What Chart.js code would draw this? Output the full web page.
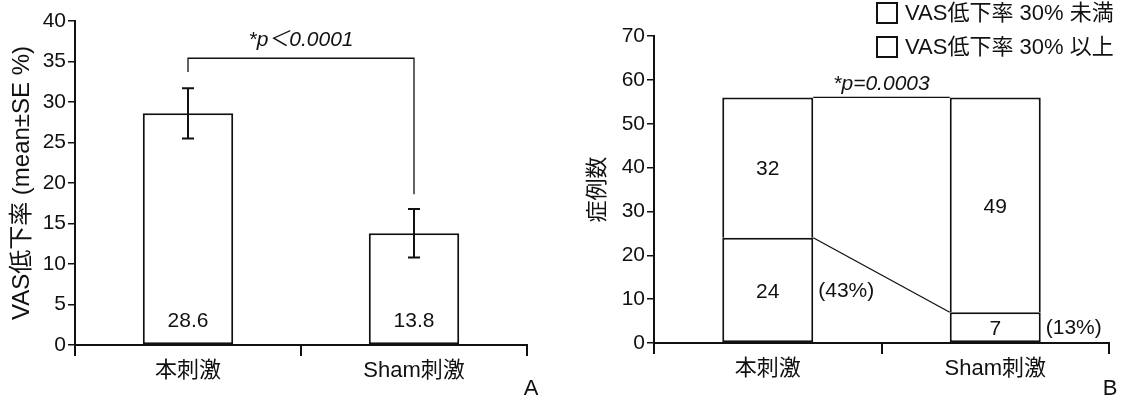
<!DOCTYPE html>
<html>
<head>
<meta charset="utf-8">
<script src="https://cdn.jsdelivr.net/npm/chart.js@4.4.0/dist/chart.umd.min.js"></script>
<style>
  html, body { margin: 0; padding: 0; background: #fff; }
  #wrap { position: relative; width: 1121px; height: 399px; overflow: hidden; }
  #chartA { position: absolute; left: 0; top: 0; }
  #chartB { position: absolute; left: 560px; top: 0; }
</style>
</head>
<body>
<div id="wrap">
  <canvas id="chartA" width="560" height="399"></canvas>
  <canvas id="chartB" width="561" height="399"></canvas>
</div>
<script>
// --- data -------------------------------------------------------------
const categories = ['本刺激', 'Sham刺激'];

// A: VAS reduction rate, mean ± SE (%)
const meanDrop = [28.6, 13.8];
const seDrop = [3.1, 3.0];
const bracketTop = 35.4;          // height of the significance bracket
const bracketEnds = [33.7, 18.6]; // where each leg of the bracket stops
const sigTextA = '*p＜0.0001';

// B: number of cases
const seriesLabels = ['VAS低下率 30% 未満', 'VAS低下率 30% 以上'];
const countUnder30 = [32, 49];
const countOver30 = [24, 7];
const pctOver30 = ['(43%)', '(13%)'];
const sigTextB = '*p=0.0003';

const INK = '#111';
const FONT = '"Liberation Sans", Arial, "Noto Sans CJK JP", sans-serif';

// --- shared axis styling ---------------------------------------------
function xAxis(height) {
  return {
    offset: true,
    grid: { display: true, offset: true, drawOnChartArea: false, drawTicks: true,
            tickLength: 11, color: INK, lineWidth: 2 },
    border: { display: true, color: INK, width: 2 },
    ticks: { color: INK, padding: 2, font: { family: FONT, size: 22 } },
    afterFit(s) { s.height = height; },
  };
}
function yAxis(width, max, step, title, titleSize, titlePad) {
  return {
    min: 0, max: max,
    grid: { drawOnChartArea: false, drawTicks: true, tickLength: 7, color: INK, lineWidth: 1.5 },
    border: { display: true, color: INK, width: 2 },
    ticks: { stepSize: step, color: INK, padding: 2, font: { family: FONT, size: 21 } },
    title: { display: true, text: title, color: INK, padding: { top: titlePad, bottom: 0 },
             font: { family: FONT, size: titleSize } },
    afterFit(s) { s.width = width; },
  };
}

const noChrome = {
  legend: { display: false },
  tooltip: { enabled: false },
};

// --- panel A ----------------------------------------------------------
const panelA = {
  id: 'panelA',
  afterDatasetsDraw(chart) {
    const { ctx, scales: { x, y } } = chart;
    const bars = chart.getDatasetMeta(0).data;
    ctx.save();
    ctx.strokeStyle = INK;
    ctx.fillStyle = INK;
    ctx.textAlign = 'center';
    ctx.textBaseline = 'middle';

    bars.forEach((bar, i) => {
      const hi = y.getPixelForValue(meanDrop[i] + seDrop[i]);
      const lo = y.getPixelForValue(meanDrop[i] - seDrop[i]);
      ctx.lineWidth = 2;
      ctx.beginPath();
      ctx.moveTo(bar.x, hi); ctx.lineTo(bar.x, lo);
      ctx.moveTo(bar.x - 6, hi); ctx.lineTo(bar.x + 6, hi);
      ctx.moveTo(bar.x - 6, lo); ctx.lineTo(bar.x + 6, lo);
      ctx.stroke();

      ctx.font = '21px ' + FONT;
      ctx.fillText(meanDrop[i].toFixed(1), bar.x, y.bottom - 24);
    });

    // significance bracket
    const x0 = bars[0].x, x1 = bars[1].x;
    const yt = y.getPixelForValue(bracketTop);
    ctx.lineWidth = 1.3;
    ctx.beginPath();
    ctx.moveTo(x0, y.getPixelForValue(bracketEnds[0]));
    ctx.lineTo(x0, yt);
    ctx.lineTo(x1, yt);
    ctx.lineTo(x1, y.getPixelForValue(bracketEnds[1]));
    ctx.stroke();

    ctx.font = 'italic 21px ' + FONT;
    ctx.fillText(sigTextA, (x0 + x1) / 2, yt - 18);

    ctx.font = '22px ' + FONT;
    ctx.fillText('A', x.right + 4, 389);
    ctx.restore();
  }
};

new Chart(document.getElementById('chartA'), {
  type: 'bar',
  data: {
    labels: categories,
    datasets: [{
      data: meanDrop,
      backgroundColor: '#fff',
      borderColor: INK,
      borderWidth: 2,
      borderSkipped: false,
      barPercentage: 0.4,
      categoryPercentage: 1,
    }],
  },
  options: {
    responsive: false,
    animation: false,
    layout: { padding: { left: 0, right: 33, top: 21, bottom: 0 } },
    plugins: noChrome,
    scales: {
      x: xAxis(54),
      y: yAxis(75, 40, 5, 'VAS低下率 (mean±SE %)', 24, 8),
    },
  },
  plugins: [panelA],
});

// --- panel B ----------------------------------------------------------
const panelB = {
  id: 'panelB',
  afterDatasetsDraw(chart) {
    const { ctx, scales: { x, y } } = chart;
    const lower = chart.getDatasetMeta(0).data;
    ctx.save();
    ctx.strokeStyle = INK;
    ctx.fillStyle = INK;

    // connectors between the two stacks
    const r0 = lower[0].x + lower[0].width / 2;
    const l1 = lower[1].x - lower[1].width / 2;
    const tot = [0, 1].map(i => countOver30[i] + countUnder30[i]);
    ctx.lineWidth = 1.3;
    ctx.beginPath();
    ctx.moveTo(r0, y.getPixelForValue(tot[0]));
    ctx.lineTo(l1, y.getPixelForValue(tot[1]));
    ctx.moveTo(r0, y.getPixelForValue(countOver30[0]));
    ctx.lineTo(l1, y.getPixelForValue(countOver30[1]));
    ctx.stroke();

    // segment values
    ctx.font = '21px ' + FONT;
    ctx.textAlign = 'center';
    ctx.textBaseline = 'middle';
    [0, 1].forEach(i => {
      const cx = lower[i].x;
      ctx.fillText(String(countOver30[i]), cx, y.getPixelForValue(countOver30[i] / 2) + 2);
      ctx.fillText(String(countUnder30[i]), cx, y.getPixelForValue(countOver30[i] + countUnder30[i] / 2) + 2);
    });

    // share of responders beside each stack
    ctx.textAlign = 'left';
    [0, 1].forEach(i => {
      const right = lower[i].x + lower[i].width / 2;
      ctx.fillText(pctOver30[i], right + 5, y.getPixelForValue(countOver30[i] / 2) + 1);
    });

    ctx.textAlign = 'center';
    ctx.font = 'italic 21px ' + FONT;
    ctx.fillText(sigTextB, (r0 + l1) / 2, y.getPixelForValue(tot[0]) - 13);

    // legend (both series are white boxes)
    ctx.font = '22px ' + FONT;
    ctx.textAlign = 'left';
    ctx.lineWidth = 2;
    seriesLabels.forEach((label, i) => {
      const cy = 13 + i * 34;
      ctx.fillStyle = '#fff';
      ctx.fillRect(317, cy - 10, 20, 20);
      ctx.strokeRect(317, cy - 10, 20, 20);
      ctx.fillStyle = INK;
      ctx.fillText(label, 345, cy + 1);
    });

    ctx.textAlign = 'center';
    ctx.font = '22px ' + FONT;
    ctx.fillText('B', x.right + 1, 389);
    ctx.restore();
  }
};

new Chart(document.getElementById('chartB'), {
  type: 'bar',
  data: {
    labels: categories,
    datasets: [
      {
        label: seriesLabels[1],
        data: countOver30,
        backgroundColor: '#fff',
        borderColor: INK,
        borderWidth: { top: 2, left: 2, right: 2, bottom: 2 },
        borderSkipped: false,
        barPercentage: 0.4,
        categoryPercentage: 1,
      },
      {
        label: seriesLabels[0],
        data: countUnder30,
        backgroundColor: '#fff',
        borderColor: INK,
        borderWidth: { top: 2, left: 2, right: 2, bottom: 0 },
        borderSkipped: false,
        barPercentage: 0.4,
        categoryPercentage: 1,
      },
    ],
  },
  options: {
    responsive: false,
    animation: false,
    layout: { padding: { left: 0, right: 12, top: 36, bottom: 0 } },
    plugins: noChrome,
    scales: {
      x: Object.assign(xAxis(56), { stacked: true }),
      y: Object.assign(yAxis(94, 70, 10, '症例数', 22, 25), { stacked: true }),
    },
  },
  plugins: [panelB],
});
</script>
</body>
</html>
